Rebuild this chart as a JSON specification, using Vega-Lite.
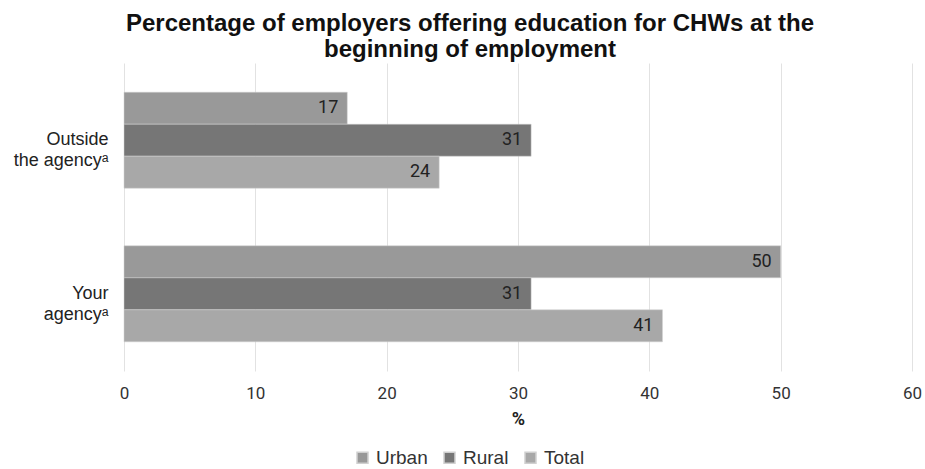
{
  "$schema": "https://vega.github.io/schema/vega-lite/v6.json",
  "width": 788,
  "height": 308,
  "autosize": {"type": "none"},
  "padding": {"left": 124, "top": 63, "right": 13, "bottom": 98},
  "background": "white",
  "config": {"view": {"stroke": null}},
  "title": {
    "text": ["Percentage of employers offering education for CHWs at the", "beginning of employment"],
    "font": "Liberation Sans",
    "fontSize": 24,
    "fontWeight": "bold",
    "color": "#111",
    "anchor": "middle",
    "dx": -48,
    "offset": 1,
    "lineHeight": 26
  },
  "data": {
    "values": [
      {"cat": "Outside|the agencyᵃ", "group": "Urban", "value": 17},
      {"cat": "Outside|the agencyᵃ", "group": "Rural", "value": 31},
      {"cat": "Outside|the agencyᵃ", "group": "Total", "value": 24},
      {"cat": "Your|agencyᵃ", "group": "Urban", "value": 50},
      {"cat": "Your|agencyᵃ", "group": "Rural", "value": 31},
      {"cat": "Your|agencyᵃ", "group": "Total", "value": 41}
    ]
  },
  "encoding": {
    "y": {
      "field": "cat",
      "type": "nominal",
      "sort": null,
      "scale": {"paddingInner": 0.375, "paddingOuter": 0.19},
      "axis": {
        "title": null,
        "labelExpr": "split(datum.label, '|')",
        "labelFont": "Liberation Sans",
        "labelFontSize": 18,
        "labelColor": "#222",
        "labelLineHeight": 21,
        "labelPadding": 16,
        "ticks": false,
        "domain": false
      }
    },
    "yOffset": {"field": "group", "type": "nominal", "sort": ["Urban", "Rural", "Total"], "scale": {"paddingInner": 0, "paddingOuter": 0}},
    "x": {
      "field": "value",
      "type": "quantitative",
      "scale": {"domain": [0, 60], "nice": false},
      "axis": {
        "title": "%",
        "titleFont": "Roboto",
        "titleFontSize": 18,
        "titleFontWeight": "bold",
        "titleColor": "#222",
        "titlePadding": 9,
        "values": [0, 10, 20, 30, 40, 50, 60],
        "labelFont": "Roboto",
        "labelFontSize": 17,
        "labelColor": "#333",
        "labelPadding": 14,
        "labelFlush": false,
        "ticks": false,
        "domain": false,
        "grid": true,
        "gridColor": "#e2e2e2"
      }
    }
  },
  "layer": [
    {
      "mark": {"type": "bar", "stroke": "#d0d0d0", "strokeWidth": 0.5},
      "encoding": {
        "color": {
          "field": "group",
          "type": "nominal",
          "sort": ["Urban", "Rural", "Total"],
          "scale": {"domain": ["Urban", "Rural", "Total"], "range": ["#999999", "#767676", "#a8a8a8"]},
          "legend": {
            "title": null,
            "orient": "none",
            "direction": "horizontal",
            "legendX": 229,
            "legendY": 385,
            "symbolType": "square",
            "symbolSize": 120,
            "labelFont": "Liberation Sans",
            "labelFontSize": 19,
            "labelColor": "#333",
            "columnPadding": 12,
            "labelOffset": 4
          }
        }
      }
    },
    {
      "mark": {"type": "text", "align": "right", "dx": -9, "font": "Roboto", "fontSize": 18, "color": "#222", "baseline": "middle"},
      "encoding": {"text": {"field": "value", "type": "quantitative"}}
    }
  ]
}
